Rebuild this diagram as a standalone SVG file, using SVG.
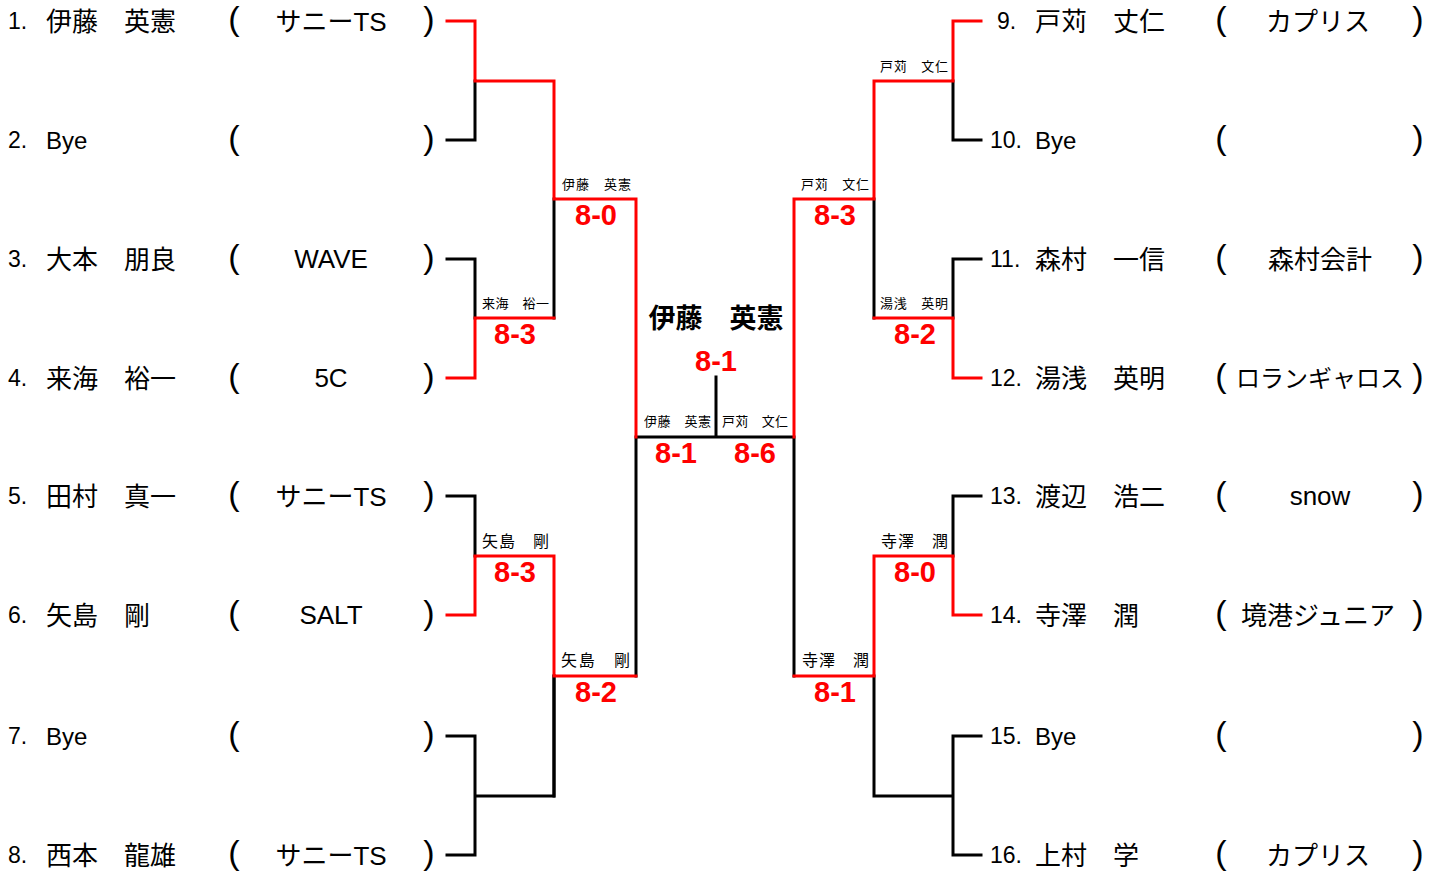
<svg xmlns="http://www.w3.org/2000/svg" width="1442" height="877" viewBox="0 0 1442 877">
<style>
.num{font-family:"Liberation Sans","Noto Sans CJK JP",sans-serif;font-size:23px;fill:#000}
.name{font-family:"Noto Sans CJK JP",sans-serif;font-size:26px;fill:#000}
.lat{font-family:"Liberation Sans",sans-serif;font-size:24px;fill:#000}
.par{font-family:"Liberation Sans",sans-serif;font-size:34px;fill:#000;text-anchor:middle}
.team{font-family:"Liberation Sans","Noto Sans CJK JP",sans-serif;font-size:26px;fill:#000;text-anchor:middle}
.lbl{font-family:"Noto Sans CJK JP",sans-serif;font-size:13px;fill:#000}
.lbl16{font-family:"Noto Sans CJK JP",sans-serif;font-size:16px;fill:#000}
.score{font-family:"Liberation Sans",sans-serif;font-size:29px;font-weight:bold;fill:#FF0000;text-anchor:middle}
.champ{font-family:"Noto Sans CJK JP",sans-serif;font-size:27px;font-weight:bold;fill:#000;text-anchor:middle}
.bk{fill:none;stroke:#000;stroke-width:3;stroke-linecap:square;stroke-linejoin:miter}
.rd{fill:none;stroke:#FF0000;stroke-width:3;stroke-linecap:square;stroke-linejoin:miter}
</style>
<rect width="1442" height="877" fill="#fff"/>
<g id="connectors">
<path class="bk" d="M447,140 H475 V81"/>
<path class="bk" d="M554,199 V318"/>
<path class="bk" d="M447,259 H475 V318"/>
<path class="bk" d="M447,496 H475 V556"/>
<path class="bk" d="M554,676 V796"/>
<path class="bk" d="M447,736 H475 V855 H447 M475,796 H554 V676"/>
<path class="bk" d="M636,437 V676 M636,437 H794 V676 M716,437 V377"/>
<path class="bk" d="M953,81 V140 H981"/>
<path class="bk" d="M874,199 V318"/>
<path class="bk" d="M981,259 H953 V318"/>
<path class="bk" d="M953,556 V496 H981"/>
<path class="bk" d="M874,676 V796 H953 M981,736 H953 V855 H981"/>
<path class="rd" d="M447,21 H475 V81 H554 V199 H636 V437"/>
<path class="rd" d="M447,378 H475 V318 H554"/>
<path class="rd" d="M447,615 H475 V556 H554 V676 H636"/>
<path class="rd" d="M794,437 V199 H874 V81 H953 V21 H981"/>
<path class="rd" d="M981,378 H953 V318 H874"/>
<path class="rd" d="M794,676 H874 V556 H953 V615 H981"/>
</g>
<g id="p1"><text class="num" x="8" y="29">1.</text><text class="name" x="46" y="31">伊藤　英憲</text><text class="par" x="234" y="30">(</text><text class="team" x="331" y="31">サニーTS</text><text class="par" x="429" y="30">)</text></g>
<g id="p2"><text class="num" x="8" y="148">2.</text><text class="lat" x="46" y="149">Bye</text><text class="par" x="234" y="149">(</text><text class="par" x="429" y="149">)</text></g>
<g id="p3"><text class="num" x="8" y="267">3.</text><text class="name" x="46" y="269">大本　朋良</text><text class="par" x="234" y="268">(</text><text class="team" x="331" y="268">WAVE</text><text class="par" x="429" y="268">)</text></g>
<g id="p4"><text class="num" x="8" y="386">4.</text><text class="name" x="46" y="388">来海　裕一</text><text class="par" x="234" y="387">(</text><text class="team" x="331" y="387">5C</text><text class="par" x="429" y="387">)</text></g>
<g id="p5"><text class="num" x="8" y="504">5.</text><text class="name" x="46" y="506">田村　真一</text><text class="par" x="234" y="505">(</text><text class="team" x="331" y="506">サニーTS</text><text class="par" x="429" y="505">)</text></g>
<g id="p6"><text class="num" x="8" y="623">6.</text><text class="name" x="46" y="625">矢島　剛</text><text class="par" x="234" y="624">(</text><text class="team" x="331" y="624">SALT</text><text class="par" x="429" y="624">)</text></g>
<g id="p7"><text class="num" x="8" y="744">7.</text><text class="lat" x="46" y="745">Bye</text><text class="par" x="234" y="745">(</text><text class="par" x="429" y="745">)</text></g>
<g id="p8"><text class="num" x="8" y="863">8.</text><text class="name" x="46" y="865">西本　龍雄</text><text class="par" x="234" y="864">(</text><text class="team" x="331" y="865">サニーTS</text><text class="par" x="429" y="864">)</text></g>
<g id="p9"><text class="num" x="997" y="29">9.</text><text class="name" x="1035" y="31">戸苅　丈仁</text><text class="par" x="1221" y="30">(</text><text class="team" x="1318" y="31">カプリス</text><text class="par" x="1418" y="30">)</text></g>
<g id="p10"><text class="num" x="990" y="148">10.</text><text class="lat" x="1035" y="149">Bye</text><text class="par" x="1221" y="149">(</text><text class="par" x="1418" y="149">)</text></g>
<g id="p11"><text class="num" x="990" y="267">11.</text><text class="name" x="1035" y="269">森村　一信</text><text class="par" x="1221" y="268">(</text><text class="team" x="1320" y="269">森村会計</text><text class="par" x="1418" y="268">)</text></g>
<g id="p12"><text class="num" x="990" y="386">12.</text><text class="name" x="1035" y="388">湯浅　英明</text><text class="par" x="1221" y="387">(</text><text class="team" x="1320" y="387" style="font-size:24px">ロランギャロス</text><text class="par" x="1418" y="387">)</text></g>
<g id="p13"><text class="num" x="990" y="504">13.</text><text class="name" x="1035" y="506">渡辺　浩二</text><text class="par" x="1221" y="505">(</text><text class="team" x="1320" y="505">snow</text><text class="par" x="1418" y="505">)</text></g>
<g id="p14"><text class="num" x="990" y="623">14.</text><text class="name" x="1035" y="625">寺澤　潤</text><text class="par" x="1221" y="624">(</text><text class="team" x="1318" y="625">境港ジュニア</text><text class="par" x="1418" y="624">)</text></g>
<g id="p15"><text class="num" x="990" y="744">15.</text><text class="lat" x="1035" y="745">Bye</text><text class="par" x="1221" y="745">(</text><text class="par" x="1418" y="745">)</text></g>
<g id="p16"><text class="num" x="990" y="863">16.</text><text class="name" x="1035" y="865">上村　学</text><text class="par" x="1221" y="864">(</text><text class="team" x="1318" y="865">カプリス</text><text class="par" x="1418" y="864">)</text></g>
<g id="m-l1b"><text class="lbl" x="482" y="308" textLength="67" lengthAdjust="spacing">来海　裕一</text><text class="score" x="515" y="344">8-3</text></g>
<g id="m-l1c"><text class="lbl16" x="482" y="547" textLength="67" lengthAdjust="spacing">矢島　剛</text><text class="score" x="515" y="582">8-3</text></g>
<g id="m-l2a"><text class="lbl" x="562" y="189" textLength="69" lengthAdjust="spacing">伊藤　英憲</text><text class="score" x="596" y="225">8-0</text></g>
<g id="m-l2b"><text class="lbl16" x="561" y="666" textLength="69" lengthAdjust="spacing">矢島　剛</text><text class="score" x="596" y="702">8-2</text></g>
<g id="m-sl"><text class="lbl" x="644" y="426" textLength="67" lengthAdjust="spacing">伊藤　英憲</text><text class="score" x="676" y="463">8-1</text></g>
<g id="m-sr"><text class="lbl" x="722" y="426" textLength="66" lengthAdjust="spacing">戸苅　文仁</text><text class="score" x="755" y="463">8-6</text></g>
<g id="champion"><text class="champ" x="716" y="328">伊藤　英憲</text><text class="score" x="716" y="371">8-1</text></g>
<g id="m-r2a"><text class="lbl" x="801" y="189" textLength="68" lengthAdjust="spacing">戸苅　文仁</text><text class="score" x="835" y="225">8-3</text></g>
<g id="m-r2b"><text class="lbl16" x="802" y="666" textLength="67" lengthAdjust="spacing">寺澤　潤</text><text class="score" x="835" y="702">8-1</text></g>
<g id="m-r1a"><text class="lbl" x="880" y="71" textLength="68" lengthAdjust="spacing">戸苅　文仁</text></g>
<g id="m-r1b"><text class="lbl" x="880" y="308" textLength="68" lengthAdjust="spacing">湯浅　英明</text><text class="score" x="915" y="344">8-2</text></g>
<g id="m-r1c"><text class="lbl16" x="881" y="547" textLength="67" lengthAdjust="spacing">寺澤　潤</text><text class="score" x="915" y="582">8-0</text></g>
</svg>
